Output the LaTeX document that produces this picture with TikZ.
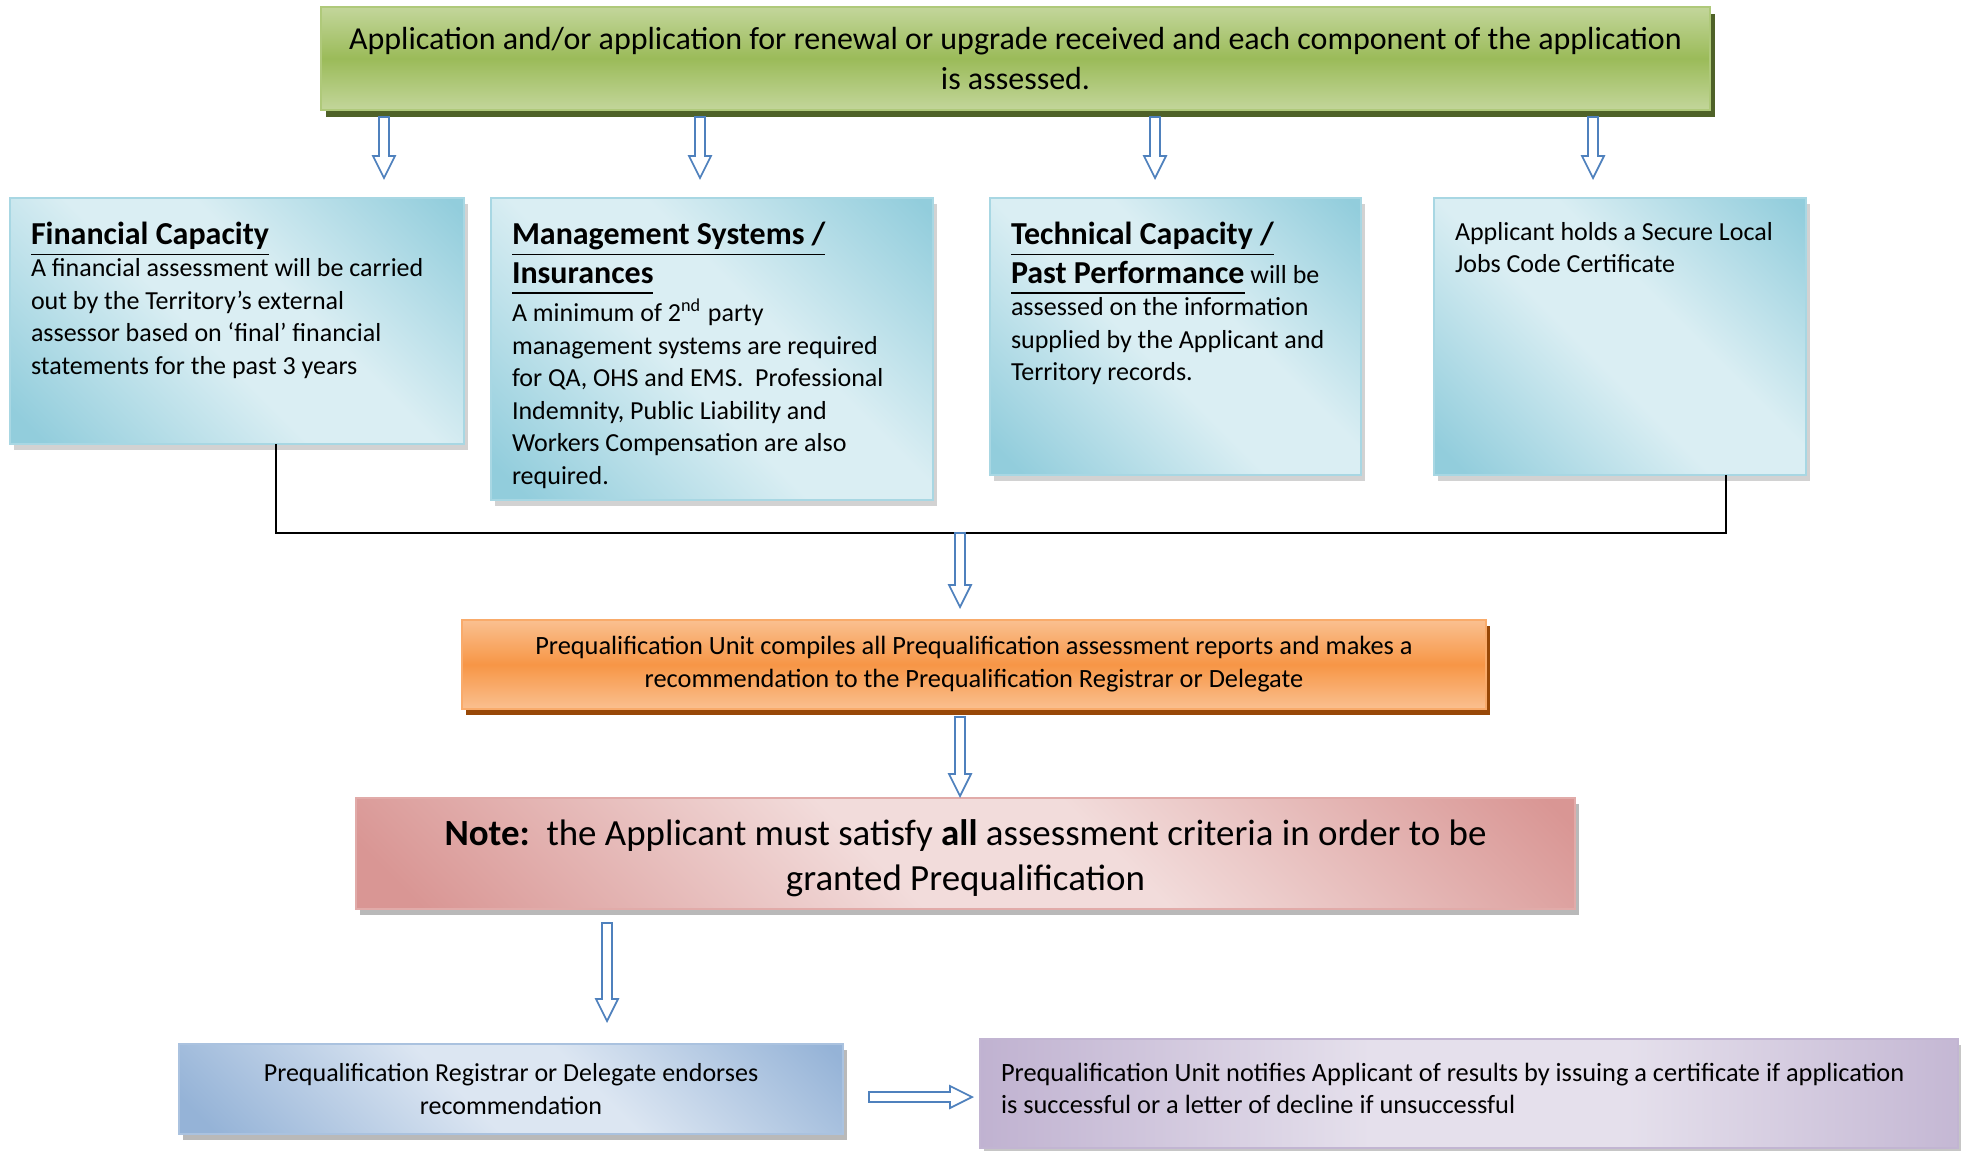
\documentclass[tikz,border=0pt]{standalone}
\usepackage{fontspec}
\setmainfont{Carlito}
\usepackage{tikz}
\usetikzlibrary{shadows}
\usetikzlibrary{positioning}
\usetikzlibrary{arrows,shapes}
\usetikzlibrary{calc}

\definecolor{greenlight}{HTML}{C3D69B}
\definecolor{greenmid}{HTML}{9BBB59}
\definecolor{greenshadow}{HTML}{4F6228}
\definecolor{cardlight}{HTML}{DAEEF3}
\definecolor{carddark}{HTML}{92CDDC}
\definecolor{orangelight}{HTML}{FAC090}
\definecolor{orangemid}{HTML}{F79646}
\definecolor{orangeshadow}{HTML}{984807}
\definecolor{notelight}{HTML}{F2DCDB}
\definecolor{notedark}{HTML}{D99694}
\definecolor{endorselight}{HTML}{DCE6F2}
\definecolor{endorsedark}{HTML}{95B3D7}
\definecolor{notifylight}{HTML}{E5E0EC}
\definecolor{notifydark}{HTML}{B3A2C7}
\definecolor{arrowblue}{HTML}{4F81BD}

%diagonal shadings, light band in the middle
\pgfdeclarehorizontalshading{cardshade}{100bp}{color(0bp)=(carddark); color(18bp)=(carddark); color(45bp)=(cardlight); color(58bp)=(cardlight); color(84bp)=(carddark); color(100bp)=(carddark)}
\pgfdeclarehorizontalshading{noteshade}{100bp}{color(0bp)=(notedark); color(18bp)=(notedark); color(45bp)=(notelight); color(58bp)=(notelight); color(84bp)=(notedark); color(100bp)=(notedark)}
\pgfdeclarehorizontalshading{endorseshade}{100bp}{color(0bp)=(endorsedark); color(18bp)=(endorsedark); color(45bp)=(endorselight); color(58bp)=(endorselight); color(84bp)=(endorsedark); color(100bp)=(endorsedark)}
\pgfdeclarehorizontalshading{notifyshade}{100bp}{color(0bp)=(notifydark); color(18bp)=(notifydark); color(45bp)=(notifylight); color(58bp)=(notifylight); color(84bp)=(notifydark); color(100bp)=(notifydark)}

\newcommand{\uln}[1]{\underline{#1\vphantom{py}}}
\newcommand{\bodyfont}{\fontsize{7.4}{9.25}\selectfont}
\newcommand{\headfont}{\fontsize{9.1}{11}\selectfont\bfseries}
\newcommand{\cardtext}[3]{\parbox[c][#2][t]{#1}{\raggedright\vspace*{0.7mm}#3}}
% shift text without changing the box size
\newcommand{\lift}[2]{\raisebox{#1}[\height][\depth]{#2}}

\begin{document}
\begin{tikzpicture}[x=0.1mm, y=-0.1mm,
  every node/.style={inner sep=0pt, outer sep=0pt},
  greenbox/.style={draw=greenmid!80!white, line width=0.4pt, top color=greenlight, bottom color=greenlight, middle color=greenmid,
    drop shadow={shadow xshift=0.5mm, shadow yshift=-0.7mm, fill=greenshadow, opacity=1},
    minimum width=138.9mm, minimum height=10.3mm, align=center, font=\fontsize{9.1}{11.2}\selectfont},
  card/.style={draw=carddark!80!white, line width=0.4pt, shading=cardshade, shading angle=45,
    drop shadow={shadow xshift=0.4mm, shadow yshift=-0.6mm, fill=gray!35, opacity=1},
    inner xsep=2.1mm, inner ysep=1.7mm},
  orangebox/.style={draw=orangemid!80!white, line width=0.4pt, top color=orangelight, bottom color=orangelight, middle color=orangemid,
    drop shadow={shadow xshift=0.4mm, shadow yshift=-0.6mm, fill=orangeshadow, opacity=1},
    minimum width=102.4mm, minimum height=8.9mm, align=center, font=\fontsize{7.5}{9.4}\selectfont},
  notebox/.style={draw=notedark!80!white, line width=0.4pt, shading=noteshade, shading angle=45,
    drop shadow={shadow xshift=0.4mm, shadow yshift=-0.6mm, fill=gray!55, opacity=1},
    minimum width=121.9mm, minimum height=11.1mm, font=\fontsize{10.5}{12.9}\selectfont},
  endorsebox/.style={draw=endorsedark!80!white, line width=0.4pt, shading=endorseshade, shading angle=45,
    drop shadow={shadow xshift=0.4mm, shadow yshift=-0.6mm, fill=gray!55, opacity=1},
    minimum width=66.4mm, minimum height=9mm, align=center, font=\bodyfont},
  notifybox/.style={draw=notifydark!80!white, line width=0.4pt, shading=notifyshade, shading angle=0,
    drop shadow={shadow xshift=0.4mm, shadow yshift=-0.6mm, fill=gray!45, opacity=1},
    minimum width=97.8mm, minimum height=10.9mm, font=\fontsize{7.5}{9.3}\selectfont},
  busline/.style={draw=black, line width=0.6pt},
  hollow/.style={draw=arrowblue, fill=white, line width=0.5pt, line join=miter,
    to path={($(\tikztotarget)!2.2mm!(\tikztostart)$) coordinate (hp)
      ($(\tikztostart)!0.5mm!90:(\tikztotarget)$) -- ($(hp)!0.5mm!90:(\tikztotarget)$)
      -- ($(hp)!1.1mm!90:(\tikztotarget)$) -- (\tikztotarget)
      -- ($(hp)!1.1mm!-90:(\tikztotarget)$) -- ($(hp)!0.5mm!-90:(\tikztotarget)$)
      -- ($(\tikztostart)!0.5mm!-90:(\tikztotarget)$) -- cycle}}
]
\useasboundingbox (0,0) rectangle (1961,1150);

%application
\node[greenbox] (top) at (1015.5,58.5) {Application and/or application for renewal or upgrade received and each component of the application\\ is assessed.};

%assessment cards
\node[card] (fin) at (237,321) {\cardtext{41.2mm}{21.2mm}{%
  {\headfont\uln{Financial Capacity}\par}
  \bodyfont A financial assessment will be carried\\ out by the Territory’s external\\ assessor based on ‘final’ financial\\ statements for the past 3 years}};

\node[card] (mgmt) at (712,349) {\cardtext{40mm}{26.8mm}{%
  {\headfont\uln{Management Systems /}\\ \uln{Insurances}\par}
  \bodyfont A minimum of 2\textsuperscript{nd} party\\ management systems are required\\ for QA, OHS and EMS.~ Professional\\ Indemnity, Public Liability and\\ Workers Compensation are also\\ required.}};

\node[card] (tech) at (1175.5,336.5) {\cardtext{32.9mm}{24.3mm}{%
  {\headfont\uln{Technical Capacity /}\\ \uln{Past Performance}{\mdseries\bodyfont\ will be}\par}
  \bodyfont assessed on the information\\ supplied by the Applicant and\\ Territory records.}};

\node[card] (slj) at (1620,336.5) {\cardtext{33mm}{24.3mm}{%
  \bodyfont Applicant holds a Secure Local\\ Jobs Code Certificate}};

%arrows to the cards
\foreach \xa/\card in {384/fin,700/mgmt,1155/tech,1593/slj}{
  \coordinate (tip\card) at (\xa,178);
  \draw[hollow] ($(top.south -| tip\card)+(0,7)$) to (tip\card);
}

%collecting line
\coordinate (bus) at (960,533);
\draw[busline] ([xshift=3.9mm]fin.south) |- (bus) -| ([xshift=10.6mm]slj.south);

%compile, note
\node[orangebox] (comp) at (974,664.5) {Prequalification Unit compiles all Prequalification assessment reports and makes a\\ recommendation to the Prequalification Registrar or Delegate};

\node[notebox] (note) at (965.5,853.5) {\lift{-1.4pt}{\parbox{117mm}{\centering
  \textbf{Note:}\ \ the Applicant must satisfy \textbf{all} assessment criteria in order to be\\ granted Prequalification}}};

\draw[hollow] (bus) to ($(comp.north -| bus)+(0,-13)$);
\draw[hollow] ($(comp.south -| bus)+(0,8)$) to ($(note.north -| bus)+(0,-2)$);

%endorse, notify
\node[endorsebox] (endorse) at (511,1089) {Prequalification Registrar or Delegate endorses\\ recommendation};

\node[notifybox] (notify) at (1469,1093.5) {\lift{1.4pt}{\parbox{93.6mm}{\raggedright
  Prequalification Unit notifies Applicant of results by issuing a certificate if application\\ is successful or a letter of decline if unsuccessful}}};

\coordinate (tipend) at (607,1021);
\draw[hollow] ($(note.south -| tipend)+(0,14)$) to (tipend);
\draw[hollow] ($(endorse.east)+(26,8)$) to ($(endorse.east -| notify.west)+(-8,8)$);

\end{tikzpicture}
\end{document}
